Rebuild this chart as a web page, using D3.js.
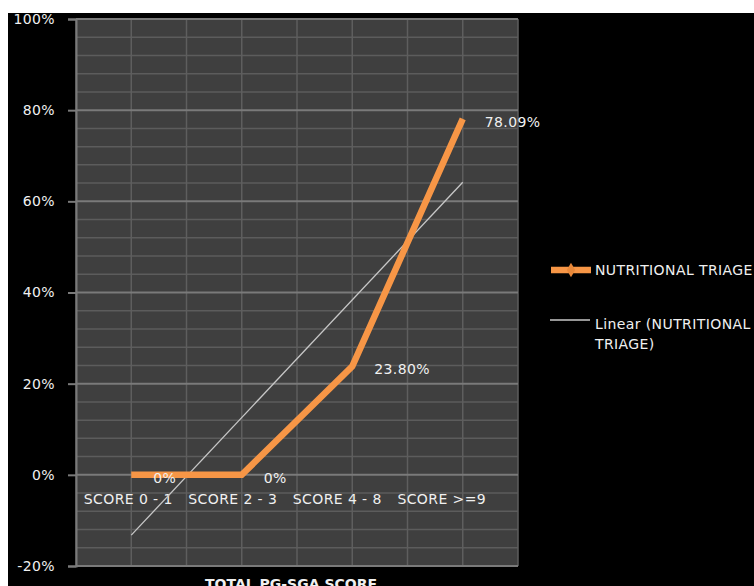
<!DOCTYPE html>
<html>
<head>
<meta charset="utf-8">
<script src="https://cdn.jsdelivr.net/npm/d3@7"></script>
<style>
  html, body { margin: 0; padding: 0; background: #ffffff; }
  svg { display: block; }
  text { font-family: "DejaVu Sans", Verdana, sans-serif; fill: #f0f0f0; }
</style>
</head>
<body>
<svg id="chart" width="754" height="586"></svg>
<script>
// Share of patients needing nutritional intervention by PG-SGA score band
const categories = ["SCORE 0 - 1", "SCORE 2 - 3", "SCORE 4 - 8", "SCORE >=9"];
const triageValues = [0, 0, 23.80, 78.09];
const valueLabels = ["0%", "0%", "23.80%", "78.09%"];
const yTicks = [-20, 0, 20, 40, 60, 80, 100];
const seriesName = "NUTRITIONAL TRIAGE";
const trendName = ["Linear (NUTRITIONAL", "TRIAGE)"];
const axisTitle = "TOTAL PG-SGA SCORE";

const FS = 14, LS = 0.4;
const svg = d3.select("#chart");

// dark panel behind the whole chart
svg.append("rect").attr("x", 8).attr("y", 13).attr("width", 746).attr("height", 573).attr("fill", "#000");

const plot = { left: 76, top: 19, right: 518, bottom: 566 };

const x = d3.scaleBand().domain(categories).range([plot.left, plot.right]);
const y = d3.scaleLinear().domain([-20, 100]).range([plot.bottom, plot.top]);
const cx = d => x(d) + x.bandwidth() / 2;

// plot area
svg.append("rect")
  .attr("x", plot.left).attr("y", plot.top)
  .attr("width", plot.right - plot.left).attr("height", plot.bottom - plot.top)
  .attr("fill", "#3f3f3f");

// minor horizontal gridlines every 4%
const minor = d3.range(-20, 100.1, 4).filter(v => v % 20 !== 0);
svg.append("g").selectAll("line").data(minor).join("line")
  .attr("x1", plot.left).attr("x2", plot.right)
  .attr("y1", d => y(d)).attr("y2", d => y(d))
  .attr("stroke", "#5c5c5c").attr("stroke-width", 1.5);

// vertical gridlines at band edges and centres
const vLines = [];
categories.forEach(c => { vLines.push(x(c)); vLines.push(cx(c)); });
vLines.push(plot.right);
svg.append("g").selectAll("line").data(vLines).join("line")
  .attr("x1", d => d).attr("x2", d => d)
  .attr("y1", plot.top).attr("y2", plot.bottom)
  .attr("stroke", "#5e5e5e").attr("stroke-width", 1.5);

// major horizontal gridlines with y axis
const yAxis = d3.axisLeft(y).tickValues(yTicks).tickFormat(d => d + "%").tickSize(8).tickPadding(13);
const yg = svg.append("g").attr("transform", `translate(${plot.left},0)`).call(yAxis);
yg.select(".domain").attr("stroke", "#7a7a7a").attr("stroke-width", 2);
yg.selectAll(".tick line").attr("stroke", "#7a7a7a").attr("stroke-width", 2);
yg.selectAll(".tick text").attr("font-size", FS).attr("fill", "#f0f0f0")
  .attr("font-family", "DejaVu Sans, sans-serif").attr("letter-spacing", LS);
svg.append("g").selectAll("line").data(yTicks).join("line")
  .attr("x1", plot.left).attr("x2", plot.right)
  .attr("y1", d => y(d)).attr("y2", d => y(d))
  .attr("stroke", "#7a7a7a").attr("stroke-width", 2);

// category labels sit just below the zero line, drifting slightly left
svg.append("g").selectAll("text").data(categories).join("text")
  .attr("x", (d, i) => cx(d) - 3 - 6 * i).attr("y", y(0) + 29)
  .attr("text-anchor", "middle").attr("font-size", FS).attr("letter-spacing", LS)
  .text(d => d);

// least-squares trendline over category index 1..n
const n = triageValues.length;
const xs = d3.range(1, n + 1);
const mx = d3.mean(xs), my = d3.mean(triageValues);
const slope = d3.sum(xs, (xi, i) => (xi - mx) * (triageValues[i] - my)) / d3.sum(xs, xi => (xi - mx) ** 2);
const intercept = my - slope * mx;
svg.append("line")
  .attr("x1", cx(categories[0])).attr("y1", y(intercept + slope * 1))
  .attr("x2", cx(categories[n - 1])).attr("y2", y(intercept + slope * n))
  .attr("stroke", "#c8c8c8").attr("stroke-width", 1.3);

// series line
const pts = categories.map((c, i) => [cx(c), y(triageValues[i])]);
svg.append("path").attr("d", d3.line()(pts))
  .attr("fill", "none").attr("stroke", "#f79646").attr("stroke-width", 6.5)
  .attr("stroke-linejoin", "miter");

// value labels
svg.append("g").selectAll("text").data(categories).join("text")
  .attr("x", (d, i) => cx(d) + 22).attr("y", (d, i) => y(triageValues[i]) + 8)
  .attr("font-size", FS).attr("letter-spacing", LS)
  .text((d, i) => valueLabels[i]);

// axis title
svg.append("text").attr("x", 291).attr("y", 589)
  .attr("text-anchor", "middle").attr("font-size", 14).attr("font-weight", "bold")
  .attr("fill", "#ffffff").text(axisTitle);

// legend
const lg = svg.append("g");
lg.append("line").attr("x1", 551).attr("x2", 591).attr("y1", 270).attr("y2", 270)
  .attr("stroke", "#f79646").attr("stroke-width", 6.5);
lg.append("path").attr("d", d3.symbol(d3.symbolDiamond, 60)())
  .attr("transform", "translate(571,270)").attr("fill", "#e8883a");
lg.append("text").attr("x", 595).attr("y", 275).attr("font-size", FS).attr("letter-spacing", LS).text(seriesName);
lg.append("line").attr("x1", 550).attr("x2", 590).attr("y1", 320).attr("y2", 320)
  .attr("stroke", "#c8c8c8").attr("stroke-width", 1.3);
lg.selectAll("text.t").data(trendName).join("text").attr("class", "t")
  .attr("x", 595).attr("y", (d, i) => 329 + i * 20).attr("font-size", FS).attr("letter-spacing", LS)
  .text(d => d);
</script>
</body>
</html>
